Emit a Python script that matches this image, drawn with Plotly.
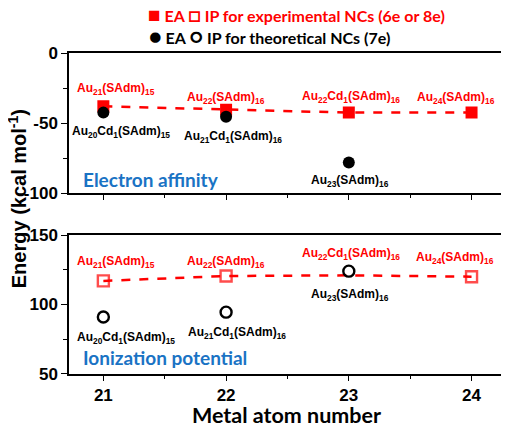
import plotly.graph_objects as go

# data
metal = [21, 22, 23, 24]
ea_exp = [-38, -40.5, -42.5, -42.5]
ip_exp = [117, 120.5, 121, 120]
exp_names = ["Au<sub>21</sub>(SAdm)<sub>15</sub>", "Au<sub>22</sub>(SAdm)<sub>16</sub>",
             "Au<sub>22</sub>Cd<sub>1</sub>(SAdm)<sub>16</sub>", "Au<sub>24</sub>(SAdm)<sub>16</sub>"]

theo_metal = [21, 22, 23]
ea_theo = [-42.5, -45.5, -78]
ip_theo = [91, 94.5, 124]
theo_names = ["Au<sub>20</sub>Cd<sub>1</sub>(SAdm)<sub>15</sub>", "Au<sub>21</sub>Cd<sub>1</sub>(SAdm)<sub>16</sub>",
              "Au<sub>23</sub>(SAdm)<sub>16</sub>"]

RED = "#ff0000"
BLUE = "#1a73c4"
ARIAL = "Liberation Sans"
CAL = "Lato"

fig = go.Figure()

# top panel: electron affinity
fig.add_trace(go.Scatter(x=metal, y=ea_exp, mode="lines+markers", xaxis="x", yaxis="y",
                         line=dict(color=RED, width=2.5, dash="dash"),
                         marker=dict(symbol="square", size=12, color=RED)))
fig.add_trace(go.Scatter(x=theo_metal, y=ea_theo, mode="markers", xaxis="x", yaxis="y",
                         marker=dict(symbol="circle", size=12, color="black")))

# bottom panel: ionization potential (red marker at 23 is hidden in the original)
fig.add_trace(go.Scatter(x=metal, y=ip_exp, mode="lines+markers", xaxis="x2", yaxis="y2",
                         line=dict(color=RED, width=2.5, dash="dash"),
                         marker=dict(symbol="square-open", size=[11, 11, 0, 11], color=RED,
                                     line=dict(width=2.4))))
fig.add_trace(go.Scatter(x=theo_metal, y=ip_theo, mode="markers", xaxis="x2", yaxis="y2",
                         marker=dict(symbol="circle-open", size=11, color="black",
                                     line=dict(width=2.4))))

ann = []
lab_font_r = dict(family=ARIAL, size=12, color=RED)
lab_font_k = dict(family=ARIAL, size=12, color="black")

# label offsets (px)
ea_exp_shift = [(13, 17), (0, 12), (2, 16), (-16, 15)]
ip_exp_shift = [(13, 19), (0, 14), (2, 21), (-17, 19)]
ea_theo_shift = [(18, -19), (7, -20), (1, -19)]
ip_theo_shift = [(23, -21), (11, -21), (1, -24)]

for i in range(4):
    ann.append(dict(x=metal[i], y=ea_exp[i], xref="x", yref="y", text="<b>" + exp_names[i] + "</b>",
                    showarrow=False, font=lab_font_r, xshift=ea_exp_shift[i][0], yshift=ea_exp_shift[i][1]))
    ann.append(dict(x=metal[i], y=ip_exp[i], xref="x2", yref="y2", text="<b>" + exp_names[i] + "</b>",
                    showarrow=False, font=lab_font_r, xshift=ip_exp_shift[i][0], yshift=ip_exp_shift[i][1]))
for i in range(3):
    ann.append(dict(x=theo_metal[i], y=ea_theo[i], xref="x", yref="y", text="<b>" + theo_names[i] + "</b>",
                    showarrow=False, font=lab_font_k, xshift=ea_theo_shift[i][0], yshift=ea_theo_shift[i][1]))
    ann.append(dict(x=theo_metal[i], y=ip_theo[i], xref="x2", yref="y2", text="<b>" + theo_names[i] + "</b>",
                    showarrow=False, font=lab_font_k, xshift=ip_theo_shift[i][0], yshift=ip_theo_shift[i][1]))

# panel names
ann.append(dict(x=20.82, y=-90, xref="x", yref="y", xanchor="left", yanchor="middle", showarrow=False,
                text="<b>Electron affinity</b>", font=dict(family=CAL, size=19, color=BLUE)))
ann.append(dict(x=20.82, y=62, xref="x2", yref="y2", xanchor="left", yanchor="middle", showarrow=False,
                text="<b>Ionization potential</b>", font=dict(family=CAL, size=19, color=BLUE)))

# legend-like header
big = '<span style="font-size:21px">%s</span>'
ann.append(dict(x=0.178, y=1.1215, xref="paper", yref="paper", xanchor="left", yanchor="middle",
                showarrow=False,
                text="<b>" + big % "■" + " EA " + big % "□" + " IP for experimental NCs (6e or 8e)</b>",
                font=dict(family=CAL, size=16, color=RED)))
ann.append(dict(x=0.18, y=1.056, xref="paper", yref="paper", xanchor="left", yanchor="middle",
                showarrow=False,
                text="<b>" + big % "●" + " EA " + big % "○" + " IP for theoretical NCs (7e)</b>",
                font=dict(family=CAL, size=16, color="black")))

# axis titles
ann.append(dict(x=-0.12, y=0.545, xref="paper", yref="paper", xanchor="center", yanchor="middle",
                showarrow=False, textangle=-90,
                text="<b>Energy (kcal mol<sup>-1</sup>)</b>", font=dict(family=ARIAL, size=20, color="black")))
ann.append(dict(x=0.503, y=-0.128, xref="paper", yref="paper", xanchor="center", yanchor="middle",
                showarrow=False, text="<b>Metal atom number</b>",
                font=dict(family=CAL, size=21.5, color="black")))

xcommon = dict(range=[20.72, 24.24], tickvals=[21, 22, 23, 24], showline=True, mirror=True,
               linecolor="black", linewidth=1.5, ticks="outside", ticklen=5, tickwidth=1.2,
               tickcolor="black", showgrid=False, zeroline=False,
               minor=dict(tickvals=[21.5, 22.5, 23.5], ticks="outside", ticklen=3, tickcolor="black"))
ycommon = dict(showline=True, mirror=True, linecolor="black", linewidth=1.5, ticks="outside",
               ticklen=6, tickwidth=1.2, tickcolor="black", showgrid=False, zeroline=False,
               tickfont=dict(family=ARIAL, size=17, color="black"))

# page body adds an 8px offset, so the figure is 8px smaller and margins shifted
fig.update_layout(
    width=501, height=419,
    margin=dict(l=61, r=6, t=45, b=53),
    paper_bgcolor="white", plot_bgcolor="white",
    showlegend=False,
    xaxis=dict(xcommon, anchor="y", showticklabels=False),
    yaxis=dict(ycommon, domain=[0.563, 1], range=[-100, 0], tickvals=[0, -50, -100],
               ticktext=["<b>0</b>", "<b>-50</b>", "<b>-100</b>"],
               minor=dict(tickvals=[-25, -75], ticks="outside", ticklen=4, tickcolor="black")),
    xaxis2=dict(xcommon, anchor="y2", ticktext=["<b>21</b>", "<b>22</b>", "<b>23</b>", "<b>24</b>"],
                tickfont=dict(family=ARIAL, size=17, color="black")),
    yaxis2=dict(ycommon, domain=[0, 0.433], range=[50, 150], tickvals=[50, 100, 150],
                ticktext=["<b>50</b>", "<b>100</b>", "<b>150</b>"],
                minor=dict(tickvals=[75, 125], ticks="outside", ticklen=4, tickcolor="black")),
    annotations=ann,
)

fig.write_html("out.html")
